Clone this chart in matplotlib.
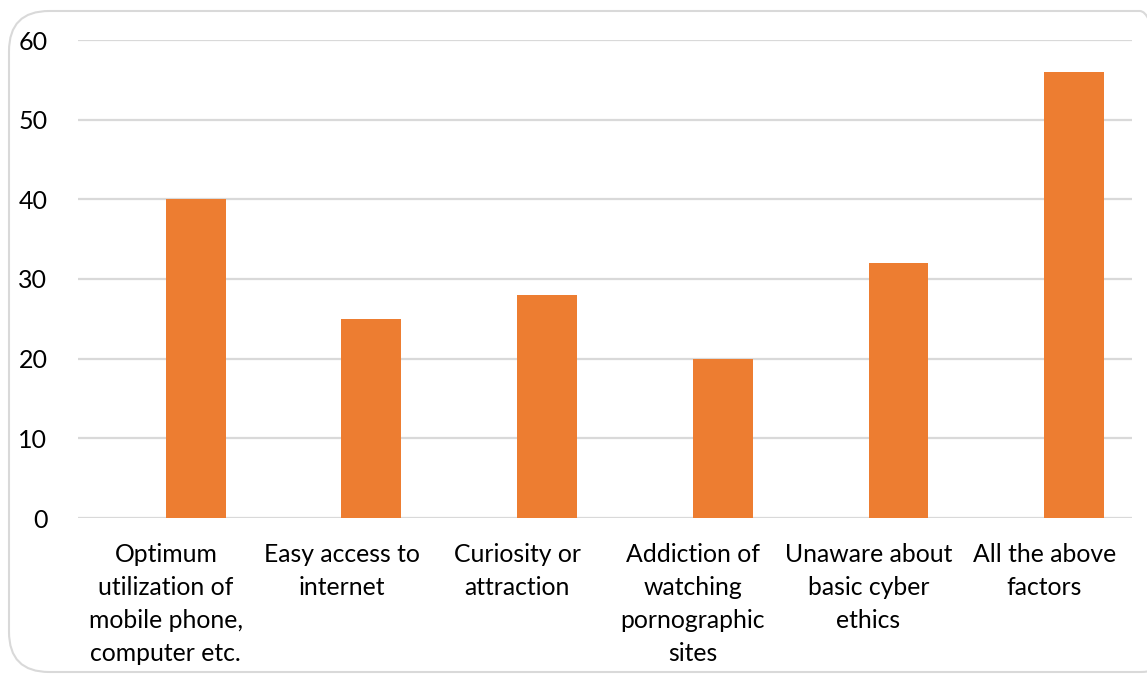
import matplotlib
matplotlib.use("Agg")
import matplotlib.pyplot as plt
from matplotlib.patches import FancyBboxPatch

categories = [
    "Optimum\nutilization of\nmobile phone,\ncomputer etc.",
    "Easy access to\ninternet",
    "Curiosity or\nattraction",
    "Addiction of\nwatching\npornographic\nsites",
    "Unaware about\nbasic cyber\nethics",
    "All the above\nfactors",
]
values = [40, 25, 28, 20, 32, 56]
yticks = [0, 10, 20, 30, 40, 50, 60]

plt.rcParams['font.family'] = ['Lato', 'DejaVu Sans']

W, H = 1147, 675
fig = plt.figure(figsize=(W / 100, H / 100), dpi=100)

# rounded border
border = FancyBboxPatch((9 / W, 3 / H), (1180 - 9) / W, (664 - 3) / H,
                        boxstyle="round,pad=0,rounding_size=0.035",
                        transform=fig.transFigure, facecolor='none',
                        edgecolor='#d9d9d9', linewidth=1.5,
                        mutation_aspect=W / H, zorder=-1)
fig.patches.append(border)

ax = fig.add_axes([78 / W, 1 - 518 / H, (1132 - 78) / W, (518 - 40) / H])
ax.set_facecolor('none')

bw = 0.3415
xs = [i + bw / 2 for i in range(len(values))]
ax.bar(xs, values, width=bw, color='#ed7d31', zorder=3)

ax.set_xlim(-0.5, len(values) - 0.5)
ax.set_ylim(0, 60)
ax.set_yticks(yticks)
ax.set_yticklabels([str(v) for v in yticks], fontsize=18, color='black')
ax.grid(axis='y', color='#d9d9d9', linewidth=1.6, zorder=0)
ax.set_axisbelow(True)

ax.set_xticks(range(len(categories)))
ax.set_xticklabels(categories, fontsize=17.8, color='black', linespacing=1.52)
ax.tick_params(axis='both', length=0)
ax.tick_params(axis='y', pad=22)
ax.tick_params(axis='x', pad=18)

for s in ax.spines.values():
    s.set_visible(False)

fig.savefig("out.png", dpi=100)
